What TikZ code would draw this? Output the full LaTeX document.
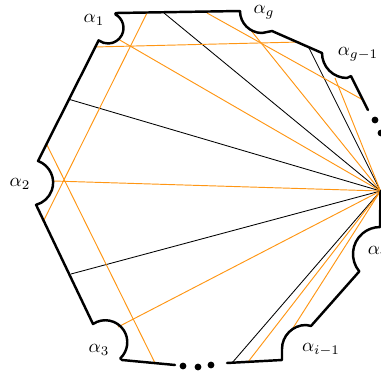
\documentclass[tikz,border=0pt]{standalone}
\usetikzlibrary{calc}
\definecolor{org}{RGB}{255,150,20}
\begin{document}
\begin{tikzpicture}[x=0.53pt,y=-0.53pt,
  bd/.style={line width=1.3pt, line join=round, line cap=round},
  bl/.style={line width=0.45pt, black},
  og/.style={line width=0.5pt, org},
  lab/.style={inner sep=0pt},
  dotmark/.style={fill=black, circle, inner sep=0pt, minimum size=3.6pt}]
\useasboundingbox (0,0) rectangle (381,374);
\coordinate (F) at (380.5,191);
% endpoints of black chords
\coordinate (b1) at (164,13);
\coordinate (b2) at (68,99);
\coordinate (b3) at (71,274);
\coordinate (b4) at (232,363);
\coordinate (b5) at (308,46);
% orange chords
\coordinate (o1a) at (147,13);  \coordinate (o1b) at (43,222);
\coordinate (o2a) at (94,47);   \coordinate (o2b) at (300,42);
\coordinate (o3) at (118,39);
\coordinate (o4) at (53,181);
\coordinate (o5a) at (46,143);  \coordinate (o5b) at (155,363);
\coordinate (o6) at (118,327);
\coordinate (o7a) at (207,13);  \coordinate (o7b) at (363,100);
\coordinate (o8) at (249,28);
\coordinate (o9) at (335,78);
\coordinate (o10) at (248,362);
\coordinate (o11) at (293,328);

\foreach \p in {b1,b2,b3,b4,b5} \draw[bl] (\p) -- (F);
\draw[og] (o1a) -- (o1b);
\draw[og] (o2a) -- (o2b);
\draw[og] (o5a) -- (o5b);
\draw[og] (o7a) -- (o7b);
\foreach \p in {o3,o4,o6,o8,o9,o10,o11} \draw[og] (\p) -- (F);

% boundary
\draw[bd] (368,110) -- (351,76) -- (347,78)
  arc[start angle=90, end angle=180, radius=25] -- (272,31) -- (262,33)
  arc[start angle=90, end angle=180, radius=22] -- (116,13)
  -- ($(108,28)+(-62:15.5)$) arc[start angle=-62, end angle=127, radius=15.5]
  -- (38,161) arc[start angle=-70, end angle=75, radius=23]
  -- (93,324) arc[start angle=-124, end angle=47, radius=22]
  -- (122,360) -- (175,365);
\draw[bd] (227,363) -- (282,360) -- (282,349)
  arc[start angle=180, end angle=270, radius=24] -- (311,326) -- (359.3,271.4)
  arc[start angle=140, end angle=270, radius=27] -- (F);
\foreach \q in {(183,366),(198,367),(211,365),(375,120),(381,133),(387,146)}
  \node[dotmark] at \q {};

\node[lab] (l1) at (94,20) {$\alpha_1$};
\node[lab] (lg) at (264,12) {$\alpha_g$};
\node[lab] (lg1) at (358,54) {$\alpha_{g-1}$};
\node[lab] (l2) at (20,184) {$\alpha_2$};
\node[lab] (l3) at (99,350) {$\alpha_3$};
\node[lab] (li1) at (321,350) {$\alpha_{i-1}$};
\node[lab] (li) at (377,252) {$\alpha_i$};
\end{tikzpicture}
\end{document}
